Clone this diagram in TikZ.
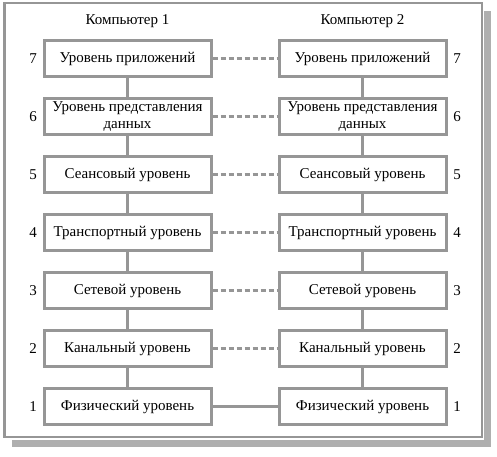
\documentclass[tikz,border=0pt]{standalone}
\usepackage{fontspec}
\setmainfont{Liberation Serif}
\usetikzlibrary{positioning}
\definecolor{framegray}{RGB}{150,150,150}
\definecolor{shadowgray}{RGB}{175,175,175}
\tikzset{
  layerbox/.style={draw=framegray, line width=3pt, fill=white, minimum width=167pt, minimum height=36pt, inner sep=1pt, align=center, font=\fontsize{15}{16.5}\selectfont},
  linkline/.style={draw=framegray, line width=3pt},
  peerline/.style={draw=framegray, line width=2.4pt, dash pattern=on 5pt off 3pt},
  levelnum/.style={font=\fontsize{15}{16}\selectfont},
}
\begin{document}
\begin{tikzpicture}[x=1pt,y=-1pt]
		\useasboundingbox (0,0) rectangle (497,456);
		% shadow and frame
		\fill [shadowgray] (484,11) rectangle (491,447);
		\fill [shadowgray] (12,440) rectangle (491,447);
		\draw [framegray, line width=2.5pt, fill=white] (4.5,3) rectangle (482,437);
		% titles
		\node [levelnum] (comp1) at (127.5,21) {Компьютер 1};
		\node [levelnum] (comp2) at (362.5,21) {Компьютер 2};
		% levels
		\foreach \n/\name in {7/{Уровень приложений}, 6/{Уровень представления\\данных}, 5/{Сеансовый уровень}, 4/{Транспортный уровень}, 3/{Сетевой уровень}, 2/{Канальный уровень}, 1/{Физический уровень}} {
			\node [layerbox] (l\n) at (127.5, {58.5+58*(7-\n)}) {\name};
			\node [layerbox] (r\n) at (362.5, {58.5+58*(7-\n)}) {\name};
			\node [levelnum] (nl\n) at (33, {58.5+58*(7-\n)}) {\n};
			\node [levelnum] (nr\n) at (457, {58.5+58*(7-\n)}) {\n};
		}
		% vertical links
		\foreach \a/\b in {7/6, 6/5, 5/4, 4/3, 3/2, 2/1} {
			\draw [linkline] (l\a) -- (l\b);
			\draw [linkline] (r\a) -- (r\b);
		}
		% peer links
		\foreach \n in {7,...,2} {
			\draw [peerline] (l\n) -- (r\n);
		}
		\draw [framegray, line width=2.4pt] (l1) -- (r1);
	\end{tikzpicture}
\end{document}
